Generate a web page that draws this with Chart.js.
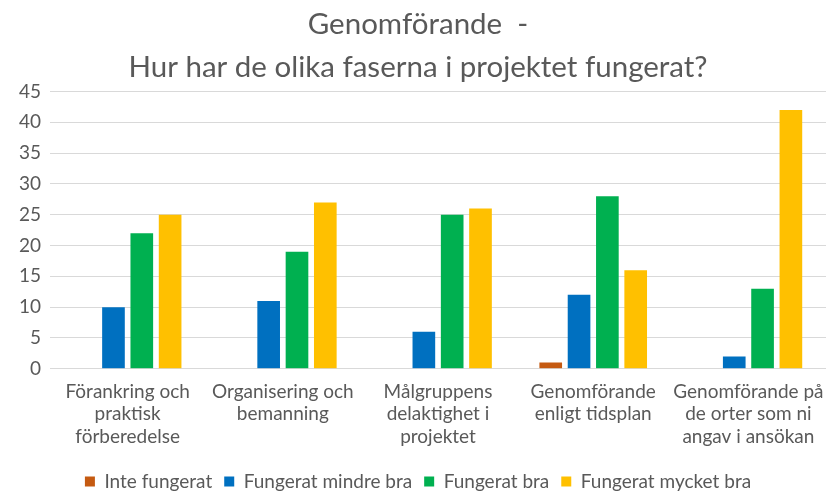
<!DOCTYPE html>
<html><head><meta charset="utf-8">
<script src="https://cdn.jsdelivr.net/npm/chart.js@4"></script>
<style>html,body{margin:0;padding:0;background:#fff}#wrap{width:826px;height:491px}</style>
</head><body><div id="wrap"><canvas id="c" width="826" height="491"></canvas></div>
<script>
const categories = [
  ["Förankring och","praktisk","förberedelse"],
  ["Organisering och","bemanning"],
  ["Målgruppens","delaktighet i","projektet"],
  ["Genomförande","enligt tidsplan"],
  ["Genomförande på","de orter som ni","angav i ansökan"]
];
const seriesNames = ["Inte fungerat","Fungerat mindre bra","Fungerat bra","Fungerat mycket bra"];
const inteFungerat = [0,0,0,1,0];
const mindreBra = [10,11,6,12,2];
const bra = [22,19,25,28,13];
const mycketBra = [25,27,26,16,42];
const yTicks = [0,5,10,15,20,25,30,35,40,45];
const colors = ["#C55A11","#0070C0","#00B050","#FFC000"];
const values = [inteFungerat, mindreBra, bra, mycketBra];
const FONT = "Lato, 'Open Sans', sans-serif";
const TXT = "#595959";
new Chart(document.getElementById('c'), {
  type: 'bar',
  data: {
    labels: categories,
    datasets: values.map((v,i)=>({label: seriesNames[i], data: v, backgroundColor: colors[i],
      categoryPercentage: 0.73, barPercentage: 0.8}))
  },
  options: {
    responsive: false, animation: false,
    layout: {padding: {left: 10, right: 0, top: 0, bottom: -10}},
    plugins: {
      title: {display: true, text: ["Genomförande  -","Hur har de olika faserna i projektet fungerat?"],
        color: TXT, font: {family: FONT, size: 29.5, weight: 'normal', lineHeight: 1.45}, padding: {top: 3, bottom: 3}},
      legend: {position: 'bottom', labels: {color: TXT, font: {family: FONT, size: 19},
        boxWidth: 10, boxHeight: 10, padding: 12}},
      tooltip: {enabled: false}
    },
    scales: {
      x: {grid: {display: false, drawTicks: false, tickLength: 0}, border: {color: "#d9d9d9"},
        ticks: {color: TXT, font: {family: FONT, size: 19, lineHeight: 1.18}, maxRotation: 0, autoSkip: false, padding: 12},
        afterFit: (s) => { s.paddingLeft = 0; s.paddingRight = 0; }},
      y: {min: 0, max: 45, afterBuildTicks: (s) => { s.ticks = yTicks.map(v => ({value: v})); },
        ticks: {color: TXT, font: {family: FONT, size: 19}, padding: 9},
        grid: {color: "#d9d9d9", lineWidth: 1, drawTicks: false}, border: {display: false}}
    }
  }
});
</script></body></html>
